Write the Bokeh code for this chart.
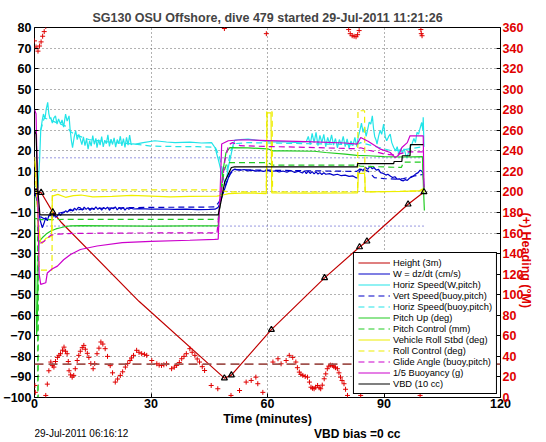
import math
from bokeh.plotting import figure
from bokeh.layouts import column
from bokeh.models import Range1d, LinearAxis, FixedTicker, Legend, LegendItem, Label, Span
from bokeh.embed import file_html
from bokeh.resources import INLINE

TITLE = "SG130 OSU Offshore, dive 479 started 29-Jul-2011 11:21:26"
X_LABEL = "Time (minutes)"
Y2_LABEL = "(+) Heading (\u00b0M)"
FOOT_DATE = "29-Jul-2011 06:16:12"
FOOT_VBD = "VBD bias =0 cc"

x_ticks = [0, 30, 60, 90, 120]
x_tick_labels = ["0", "30", "60", "90", "120"]
y_ticks = [-100, -90, -80, -70, -60, -50, -40, -30, -20, -10, 0, 10, 20, 30, 40, 50, 60, 70, 80]
y_tick_labels = ["\u2212100", "\u221290", "\u221280", "\u221270", "\u221260", "\u221250", "\u221240",
                 "\u221230", "\u221220", "\u221210", "0", "10", "20", "30", "40", "50", "60", "70", "80"]
heading_ticks = [0, 20, 40, 60, 80, 100, 120, 140, 160, 180, 200, 220, 240, 260, 280, 300, 320, 340, 360]

legend_labels = ["Height (3m)", "W = dz/dt (cm/s)", "Horiz Speed(W,pitch)", "Vert Speed(buoy,pitch)",
                 "Horiz Speed(buoy,pitch)", "Pitch Up (deg)", "Pitch Control (mm)",
                 "Vehicle Roll Stbd (deg)", "Roll Control (deg)", "Glide Angle (buoy,pitch)",
                 "1/5 Buoyancy (g)", "VBD (10 cc)"]

height_pts = [(0.0, 0.5), (0.4, 0.0), (1.7, -0.3), (4.7, -9.8), (6.8, -14.6), (26.9, -53.2), (48.9, -90.6),
              (50.7, -89.1), (61.0, -67.0), (74.7, -41.8), (83.7, -26.8), (85.6, -24.0), (96.2, -6.0), (100.3, 0.0)]
marker_pts = [(0.4, 0.0), (1.7, -0.3), (4.7, -9.8), (48.9, -90.6), (50.7, -89.1), (61.0, -67.0), (74.7, -41.8),
              (83.7, -26.8), (85.6, -24.0), (96.2, -6.0), (100.3, 0.0)]

w_pts = [(0.0, 0.0), (0.5, -3.0), (1.0, -9.0), (1.5, -14.0), (2.0, -17.4), (2.4, -15.5), (2.9, -12.5), (3.3, -14.0),
         (3.7, -11.5), (4.2, -10.9), (4.6, -12.5), (5.0, -11.0), (5.4, -12.3), (5.9, -11.7), (6.3, -10.5), (6.7, -11.4),
         (7.2, -10.2), (7.6, -10.1), (8.0, -9.2), (8.5, -9.8), (9.0, -8.6), (9.3, -8.4), (9.8, -9.3), (10.3, -7.9),
         (10.8, -8.8), (11.3, -7.5), (11.8, -7.7), (12.3, -8.9), (12.8, -7.4), (13.3, -8.5), (13.8, -7.6), (14.3, -9.0),
         (14.8, -7.8), (15.3, -8.6), (15.8, -7.3), (16.3, -8.5), (16.8, -7.6), (17.3, -8.8), (17.8, -7.5), (18.3, -8.3),
         (18.8, -7.4), (19.3, -8.9), (19.8, -7.8), (20.3, -8.2), (20.8, -7.3), (21.3, -8.7), (21.8, -7.6), (22.3, -8.4),
         (22.8, -7.5), (23.3, -8.8), (23.8, -7.7), (24.3, -8.4), (24.8, -7.9), (25.5, -8.3), (27.0, -8.1), (30.0, -8.4),
         (33.0, -8.3), (36.0, -8.5), (39.0, -8.4), (42.0, -8.6), (45.0, -8.5), (46.5, -8.4), (47.3, -7.5), (48.0, -4.0),
         (48.8, 0.5), (49.5, 4.5), (50.2, 8.5), (51.0, 10.5), (51.6, 11.1), (52.0, 10.9), (53.0, 10.6), (54.0, 10.9),
         (55.0, 10.2), (56.0, 10.6), (57.0, 10.1), (58.0, 10.4), (59.0, 10.0), (60.0, 10.5), (61.0, 9.9), (62.0, 10.3),
         (63.0, 9.7), (64.0, 10.2), (65.0, 9.6), (66.0, 10.4), (67.0, 9.5), (68.0, 10.1), (69.0, 9.2), (69.5, 10.3),
         (70.0, 8.9), (70.5, 10.1), (71.0, 9.0), (71.5, 9.9), (72.0, 8.8), (72.5, 9.8), (73.0, 8.7), (73.5, 9.4),
         (74.0, 8.5), (74.5, 9.3), (75.0, 8.6), (76.0, 8.9), (77.0, 8.2), (78.0, 8.6), (79.0, 7.9), (80.0, 8.2),
         (81.0, 7.6), (82.0, 7.8), (82.7, 7.0), (83.1, 6.8), (83.6, 9.5), (84.0, 11.1), (84.6, 10.4), (85.2, 12.0),
         (85.8, 11.0), (86.4, 12.5), (87.0, 11.3), (87.4, 11.9), (88.0, 10.6), (88.6, 11.0), (89.1, 9.4), (89.8, 9.0),
         (90.5, 8.2), (91.0, 8.6), (91.6, 7.8), (92.2, 7.0), (92.8, 7.4), (93.4, 6.2), (94.0, 6.4), (94.5, 5.6),
         (95.0, 5.4), (95.5, 6.0), (96.0, 5.6), (96.6, 6.8), (97.1, 7.2), (97.6, 7.8), (98.2, 8.8), (98.8, 9.4),
         (99.3, 10.6), (99.7, 10.2), (100.1, 9.0), (100.3, 2.0)]

hspd_pts = [(0.0, 3.0), (0.9, 2.0), (1.3, 15.0), (1.6, 29.8), (2.0, 35.0), (2.3, 37.9), (2.7, 35.5), (3.0, 40.0),
            (3.4, 43.6), (3.7, 38.0), (4.0, 35.5), (4.2, 36.2), (4.6, 33.5), (5.0, 36.0), (5.4, 37.0), (5.8, 33.0),
            (6.2, 35.5), (6.7, 33.0), (7.1, 35.0), (7.5, 31.5), (8.0, 37.9), (8.4, 34.5), (8.9, 37.0), (9.2, 29.8),
            (9.5, 25.0), (9.8, 21.6), (10.2, 26.5), (10.6, 29.8), (11.0, 25.5), (11.4, 28.0), (11.8, 25.7), (12.2, 23.0),
            (12.6, 26.8), (13.0, 22.5), (13.4, 25.8), (13.8, 20.8), (14.2, 24.9), (14.6, 22.3), (15.0, 27.4), (15.4, 23.2),
            (15.8, 26.1), (16.1, 21.5), (16.5, 25.4), (16.9, 22.8), (17.3, 26.9), (17.7, 21.9), (18.1, 25.2), (18.5, 23.5),
            (18.9, 27.8), (19.3, 22.2), (19.7, 25.7), (20.1, 23.1), (20.5, 26.3), (20.9, 21.8), (21.3, 25.5), (21.7, 23.4),
            (22.1, 27.1), (22.5, 22.4), (22.9, 25.9), (23.3, 21.7), (23.7, 26.6), (24.1, 22.8), (24.5, 27.6), (24.9, 23.0),
            (25.3, 23.4), (26.0, 23.3), (28.0, 24.0), (31.0, 24.9), (34.0, 24.3), (36.2, 24.0), (40.0, 24.2), (43.0, 23.8),
            (45.6, 24.0), (46.5, 21.5), (47.3, 16.0), (48.2, 9.0), (49.0, 4.5), (49.5, 7.0), (49.9, 11.9), (50.6, 18.0),
            (51.2, 23.3), (51.6, 25.2), (53.0, 25.5), (55.0, 25.7), (58.4, 24.9), (61.0, 24.3), (64.0, 24.5), (67.0, 24.1),
            (69.5, 24.4), (70.0, 24.5), (70.5, 27.0), (71.0, 23.0), (71.5, 28.5), (72.0, 24.0), (72.5, 29.0), (73.0, 22.5),
            (73.5, 27.5), (74.0, 24.0), (74.5, 28.0), (75.0, 22.0), (75.5, 26.5), (76.0, 23.5), (76.5, 27.8), (77.0, 22.8),
            (77.5, 26.0), (78.0, 21.5), (78.5, 25.5), (79.0, 23.0), (79.5, 27.0), (80.0, 22.0), (80.5, 25.8), (81.0, 21.2),
            (81.5, 24.8), (82.0, 22.5), (82.5, 26.5), (83.0, 22.0), (83.4, 27.0), (83.8, 30.0), (84.2, 33.5), (84.6, 29.0),
            (85.0, 31.5), (85.4, 27.0), (85.8, 30.5), (86.2, 34.0), (86.6, 33.0), (87.0, 37.0), (87.3, 31.0), (87.6, 27.0),
            (88.0, 25.0), (88.2, 23.3), (88.6, 27.0), (89.0, 30.0), (89.4, 28.0), (89.9, 33.0), (90.3, 27.0), (90.7, 24.9),
            (91.2, 27.0), (91.6, 28.1), (92.0, 24.0), (92.5, 21.6), (93.0, 20.0), (93.4, 22.0), (93.8, 18.4), (94.3, 21.0),
            (94.7, 19.0), (95.2, 21.0), (95.6, 18.0), (95.9, 16.7), (96.3, 19.0), (96.8, 22.0), (97.2, 23.3), (97.7, 26.0),
            (98.1, 24.0), (98.5, 29.0), (98.9, 28.1), (99.3, 31.0), (99.7, 33.8), (100.0, 30.0), (100.1, 36.3), (100.3, 22.0)]

vspd_buoy_pts = [(1.5, -12.0), (2.5, -13.0), (4.0, -11.5), (6.0, -10.5), (8.0, -9.5), (10.0, -8.8), (14.0, -8.2),
                 (20.0, -7.8), (30.0, -7.5), (40.0, -7.4), (46.5, -7.3), (47.5, -5.0), (48.5, 0.0), (49.5, 5.0),
                 (50.5, 9.0), (51.5, 10.8), (60.0, 10.6), (70.0, 10.3), (83.0, 10.0), (84.0, 11.5), (86.0, 10.0),
                 (87.5, 7.0), (90.0, 6.5), (93.0, 6.2), (95.0, 6.5), (97.0, 7.5), (100.0, 8.5)]

hspd_buoy_pts = [(1.6, 30.0), (2.5, 36.0), (4.0, 35.0), (6.0, 33.5), (8.0, 32.0), (9.5, 29.0), (11.0, 27.5),
                 (14.0, 25.5), (18.0, 24.5), (22.0, 23.8), (26.0, 23.2), (30.0, 22.3), (36.0, 22.1), (42.0, 22.0),
                 (46.5, 21.8), (47.5, 18.0), (48.5, 10.0), (49.5, 10.0), (50.5, 20.0), (51.5, 23.5), (55.0, 24.0),
                 (60.0, 23.8), (70.0, 23.5), (83.0, 23.0), (84.0, 24.0), (88.0, 22.0), (92.0, 20.0), (95.0, 20.5),
                 (100.0, 22.0)]

pitch_pts = [(0.0, -2.0), (0.3, -40.0), (0.55, -70.0), (0.75, -60.0), (0.9, -35.0), (1.2, -24.0), (2.0, -22.3),
             (3.0, -20.5), (4.2, -19.0), (5.5, -18.0), (6.7, -17.4), (8.0, -16.8), (9.3, -16.5), (12.0, -16.4),
             (20.0, -16.5), (30.0, -16.6), (40.0, -16.5), (47.3, -16.5), (47.8, -5.0), (48.5, 10.0), (49.3, 19.0),
             (50.3, 21.6), (55.0, 21.4), (60.0, 21.0), (61.4, 20.0), (65.0, 20.0), (72.0, 19.8), (75.0, 19.2),
             (80.0, 18.4), (83.0, 17.8), (86.0, 17.6), (90.0, 17.2), (95.0, 17.0), (99.9, 17.2), (100.2, 0.0),
             (100.4, -9.0)]

pitch_ctl_pts = [(0.0, -13.0), (0.8, -13.0), (0.85, -105.0), (0.95, -105.0), (1.0, -13.5), (2.5, -13.5),
                 (10.0, -13.3), (47.3, -13.3), (47.8, -5.0), (48.8, 10.0), (49.6, 14.3), (60.0, 14.3), (61.4, 13.0),
                 (83.0, 13.0), (84.0, 12.5), (93.0, 12.0), (94.5, 12.0), (95.0, 14.5), (100.0, 14.5), (100.3, 0.0)]

roll_pts = [(0.0, 17.0), (0.3, 12.0), (0.6, 0.0), (1.0, -15.0), (1.5, -24.0), (2.0, -25.0), (3.0, -22.5),
            (4.4, -21.5), (4.6, -2.0), (6.0, -1.2), (8.0, -2.6), (10.0, -1.8), (12.0, -1.5), (15.0, -2.4),
            (20.0, -2.2), (25.0, -1.7), (30.0, -2.0), (35.0, -2.4), (40.0, -2.2), (47.0, -2.0), (48.5, -1.5),
            (50.0, -0.8), (55.0, -0.5), (59.7, -0.8), (59.9, 38.5), (60.9, 38.5), (61.1, -0.5), (70.0, -0.6),
            (83.2, -0.5), (83.4, 9.0), (85.0, 9.0), (85.2, 0.0), (95.0, 0.3), (99.0, 0.5), (100.0, 1.5), (100.3, 0.0)]

roll_ctl_pts = [(0.0, 15.0), (0.8, -10.0), (1.2, -37.0), (1.5, -38.0), (4.5, -38.0), (4.6, 1.0), (47.0, 1.0),
                (48.5, 0.5), (50.0, 0.0), (59.7, 0.0), (59.8, 39.0), (61.2, 39.0), (61.3, 0.0), (83.2, 0.0),
                (83.3, 39.5), (85.0, 39.5), (85.1, 0.0), (100.0, 0.5)]

glide_pts = [(1.5, -25.0), (2.5, -24.0), (4.2, -21.0), (6.0, -20.5), (10.0, -20.2), (20.0, -20.0), (47.0, -19.9),
             (47.8, -5.0), (49.0, 15.0), (50.0, 23.0), (51.0, 24.0), (53.0, 22.5), (60.0, 22.1), (70.0, 21.7),
             (83.0, 21.0), (84.0, 21.5), (86.0, 20.3), (88.0, 19.5), (90.0, 18.5), (92.0, 18.0), (94.0, 18.5),
             (96.0, 19.5), (100.0, 19.5)]

buoy_pts = [(0.0, 40.0), (0.4, 38.0), (0.8, 0.0), (1.2, -40.0), (1.6, -45.0), (2.9, -44.2), (3.3, -39.4),
            (4.5, -37.5), (5.9, -36.1), (7.5, -33.0), (9.3, -30.4), (11.8, -28.0), (16.1, -26.3), (22.6, -24.7),
            (30.0, -24.0), (40.0, -23.5), (46.4, -23.1), (47.3, -23.0), (47.8, 0.0), (48.2, 23.3), (49.9, 24.9),
            (53.3, 25.4), (60.0, 25.0), (70.0, 24.5), (80.0, 23.8), (83.1, 23.3), (84.0, 26.5), (86.0, 24.5),
            (89.1, 20.8), (91.6, 19.2), (92.9, 16.7), (93.8, 18.0), (94.6, 21.6), (96.0, 24.0), (96.7, 27.3),
            (100.1, 27.3), (100.3, 2.0)]

vbd_pts = [(0.0, 30.0), (0.4, 28.0), (0.9, 0.0), (1.4, -11.2), (47.3, -11.2), (48.0, -5.0), (49.0, 5.0),
           (50.7, 11.9), (51.5, 12.2), (83.1, 12.2), (83.2, 13.8), (92.5, 13.8), (92.6, 14.8), (94.6, 14.8),
           (94.7, 17.6), (96.7, 17.6), (96.8, 23.0), (100.1, 23.0)]

heading_pts = [(0.0, 347), (0.1, 11.7), (0.2, 5), (0.4, 341), (0.9, 337), (1.3, 342), (1.7, 346), (2.1, 351.5),
               (2.5, 356), (2.9, 361), (2.9, 2), (3.3, 13), (3.7, 26), (4.2, 34.5), (4.6, 31), (5.0, 29.6),
               (5.4, 35), (5.9, 39), (6.3, 41), (6.7, 42.6), (7.2, 46), (7.6, 49), (8.0, 45), (8.4, 42.6),
               (8.7, 35), (8.9, 26), (9.3, 22), (9.7, 19.8), (10.1, 21.5), (10.5, 28), (11.0, 36), (11.4, 41),
               (11.8, 45), (12.3, 48.5), (12.7, 50.7), (13.1, 47), (13.6, 43), (14.0, 39), (14.5, 33), (15.1, 28),
               (15.5, 33), (16.1, 42.6), (16.6, 48), (17.1, 54), (17.6, 52), (18.2, 47.5), (18.8, 40), (19.5, 31),
               (20.1, 24), (20.8, 15), (21.4, 18), (22.1, 21.5), (22.7, 25), (23.4, 29.6), (24.0, 33), (24.6, 36),
               (25.0, 38.5), (25.5, 41), (26.3, 45.9), (26.9, 44), (27.6, 42.6), (28.3, 42), (28.9, 41), (30.2, 36),
               (31.5, 32.8), (32.1, 31.5), (32.7, 31.2), (33.3, 31.8), (34.0, 32.8), (35.3, 28), (36.0, 29.5),
               (36.6, 31.2), (37.3, 34), (37.9, 37.7), (38.5, 40), (39.1, 42.6), (40.0, 47.5), (40.6, 44),
               (41.3, 41), (41.9, 37.5), (42.5, 34.5), (43.2, 30), (43.8, 26.3), (45.5, 11.7), (47.2, 8.5),
               (48.9, 359), (50.6, 2), (52.8, 6.8), (54.5, 15), (55.8, 16.6), (57.0, 19.8), (57.5, 13.4), (58.8, 5),
               (59.7, 354), (61.4, 34.5), (62.7, 37.7), (63.5, 32.8), (64.8, 36), (65.6, 41), (66.5, 39),
               (67.3, 34.5), (67.7, 29), (68.2, 24.7), (68.6, 22.5), (69.1, 21.5), (69.7, 20.5), (70.3, 19.8),
               (70.8, 15), (71.2, 10), (71.6, 9), (72.0, 8.5), (72.4, 10), (72.9, 11.7), (73.3, 9.5), (73.7, 8.5),
               (74.1, 12), (74.6, 18.2), (75.0, 23), (75.4, 28), (75.8, 30.5), (76.2, 31.5), (76.7, 31.2),
               (77.1, 30), (77.5, 29), (78.0, 28), (78.4, 24), (78.8, 19.8), (79.2, 16.5), (79.7, 13.4), (80.1, 8),
               (80.6, 2), (80.9, 358), (81.3, 354), (81.8, 352), (82.3, 351.5), (82.8, 351), (83.2, 353),
               (83.6, 357), (84.0, 2), (99.3, 2), (99.5, 358), (99.6, 354), (99.8, 352)]

target_heading = 32.5
pitch_ref = 16.6
ref_span_t = [0.0, 100.5]

FONT = "Liberation Sans"
W_PX = 546
MAIN_H = 428
FOOT_H = 14


def xs(pts):
    return [a for a, _ in pts]


def ys(pts):
    return [b for _, b in pts]


p = figure(width=W_PX, height=MAIN_H, output_backend="svg", toolbar_location=None,
           x_range=Range1d(0, 120), y_range=Range1d(-100, 80),
           min_border_left=32, min_border_right=46, min_border_top=27, min_border_bottom=31)
p.extra_y_ranges = {"hdg": Range1d(0, 360)}
p.outline_line_color = "black"
p.outline_line_alpha = 1.0
p.outline_line_width = 1

p.title.text = TITLE
p.title.align = "center"
p.title.text_font = FONT
p.title.text_font_size = "12.5px"
p.title.text_font_style = "bold"
p.title.standoff = 6

xa = p.xaxis[0]
ya = p.yaxis[0]
xa.ticker = FixedTicker(ticks=x_ticks)
xa.major_label_overrides = {t: s for t, s in zip(x_ticks, x_tick_labels)}
ya.ticker = FixedTicker(ticks=y_ticks)
ya.major_label_overrides = {t: s for t, s in zip(y_ticks, y_tick_labels)}
xa.axis_label = X_LABEL
for ax in (xa, ya):
    ax.major_tick_in = 4
    ax.major_tick_out = 0
    ax.minor_tick_in = 0
    ax.minor_tick_out = 0
    ax.major_tick_line_color = "black"
    ax.axis_line_color = None
    ax.major_label_text_font = FONT
    ax.major_label_text_font_size = "12.5px"
    ax.major_label_text_font_style = "bold"
    ax.major_label_text_color = "black"
    ax.axis_label_text_font = FONT
    ax.axis_label_text_font_size = "12.5px"
    ax.axis_label_text_font_style = "bold"
    ax.axis_label_text_color = "black"
xa.major_label_standoff = 1
xa.axis_label_standoff = 1
ya.major_label_standoff = 3

ax2 = LinearAxis(y_range_name="hdg", ticker=FixedTicker(ticks=heading_ticks), axis_label=Y2_LABEL)
ax2.major_tick_in = 4
ax2.major_tick_out = 0
ax2.minor_tick_in = 0
ax2.minor_tick_out = 0
ax2.major_tick_line_color = "black"
ax2.axis_line_color = None
ax2.major_label_text_font = FONT
ax2.major_label_text_font_size = "12.5px"
ax2.major_label_text_font_style = "bold"
ax2.major_label_text_color = "#e00000"
ax2.major_label_standoff = 2
ax2.axis_label_text_font = FONT
ax2.axis_label_text_font_size = "12.5px"
ax2.axis_label_text_font_style = "bold"
ax2.axis_label_text_color = "#e00000"
ax2.axis_label_standoff = 0
ax2.axis_label_orientation = -math.pi / 2
p.add_layout(ax2, "right")

p.xgrid.ticker = FixedTicker(ticks=x_ticks)
p.ygrid.ticker = FixedTicker(ticks=y_ticks)
for g in (p.xgrid[0], p.ygrid[0]):
    g.grid_line_color = "#555555"
    g.grid_line_dash = "1 3"
    g.grid_line_width = 1
    g.grid_line_alpha = 0.9

# reference lines
p.line(ref_span_t, [pitch_ref, pitch_ref], line_color="#3030c0", line_dash="1 3", line_width=1)
p.line(ref_span_t, [-pitch_ref, -pitch_ref], line_color="#3030c0", line_dash="1 3", line_width=1)
tgt = Span(location=target_heading, dimension="width", y_range_name="hdg",
           line_color="#a0524d", line_dash="9 5", line_width=1.6)
p.add_layout(tgt)

LW = 1.2
DASH = "6 4"
r_h = p.line(xs(height_pts), ys(height_pts), line_color="#c00000", line_width=LW)
r_w = p.line(xs(w_pts), ys(w_pts), line_color="#0000c8", line_width=LW)
r_hs = p.line(xs(hspd_pts), ys(hspd_pts), line_color="#22e4e8", line_width=LW)
r_vb = p.line(xs(vspd_buoy_pts), ys(vspd_buoy_pts), line_color="#0000c8", line_width=LW, line_dash=DASH)
r_hb = p.line(xs(hspd_buoy_pts), ys(hspd_buoy_pts), line_color="#22e4e8", line_width=LW, line_dash=DASH)
r_p = p.line(xs(pitch_pts), ys(pitch_pts), line_color="#22cc22", line_width=LW)
r_pc = p.line(xs(pitch_ctl_pts), ys(pitch_ctl_pts), line_color="#22cc22", line_width=LW, line_dash=DASH)
r_r = p.line(xs(roll_pts), ys(roll_pts), line_color="#eeee00", line_width=LW)
r_rc = p.line(xs(roll_ctl_pts), ys(roll_ctl_pts), line_color="#eeee00", line_width=LW, line_dash=DASH)
r_g = p.line(xs(glide_pts), ys(glide_pts), line_color="#cc00cc", line_width=LW, line_dash=DASH)
r_b = p.line(xs(buoy_pts), ys(buoy_pts), line_color="#cc00cc", line_width=LW)
r_v = p.line(xs(vbd_pts), ys(vbd_pts), line_color="black", line_width=LW)

p.scatter(xs(marker_pts), ys(marker_pts), marker="triangle", size=6, fill_color=None,
          line_color="black", line_width=1.2)
p.scatter(xs(heading_pts), ys(heading_pts), marker="cross", size=5, line_color="#e00000",
          line_width=1, y_range_name="hdg")

renderers = [r_h, r_w, r_hs, r_vb, r_hb, r_p, r_pc, r_r, r_rc, r_g, r_b, r_v]
items = [LegendItem(label=lab, renderers=[r]) for lab, r in zip(legend_labels, renderers)]
leg = Legend(items=items, location="bottom_right")
leg.margin = 3
leg.padding = 4
leg.spacing = 0
leg.label_height = 11
leg.glyph_height = 11
leg.glyph_width = 32
leg.label_standoff = 3
leg.label_text_font = FONT
leg.label_text_font_size = "9.3px"
leg.label_text_color = "black"
leg.border_line_color = "black"
leg.border_line_width = 1
leg.border_line_alpha = 1
leg.background_fill_color = "white"
leg.background_fill_alpha = 1
p.add_layout(leg)

# footer strip below the chart; its frame lines up with the main frame, so it shares the time axis
foot = figure(width=W_PX, height=FOOT_H, output_backend="svg", toolbar_location=None,
              x_range=p.x_range, y_range=Range1d(0, FOOT_H),
              x_axis_type=None, y_axis_type=None, min_border=0)
foot.outline_line_color = None
foot.grid.visible = False
foot.add_layout(Label(x=0, y=9, text=FOOT_DATE, text_font=FONT, text_font_size="10px",
                      text_baseline="middle", text_align="left", text_color="black"))
foot.add_layout(Label(x=72, y=9, text=FOOT_VBD, text_font=FONT, text_font_size="12px",
                      text_font_style="bold", text_baseline="middle", text_align="left", text_color="black"))

layout = column(p, foot, spacing=0)
open("out.html", "w").write(file_html(layout, INLINE))
